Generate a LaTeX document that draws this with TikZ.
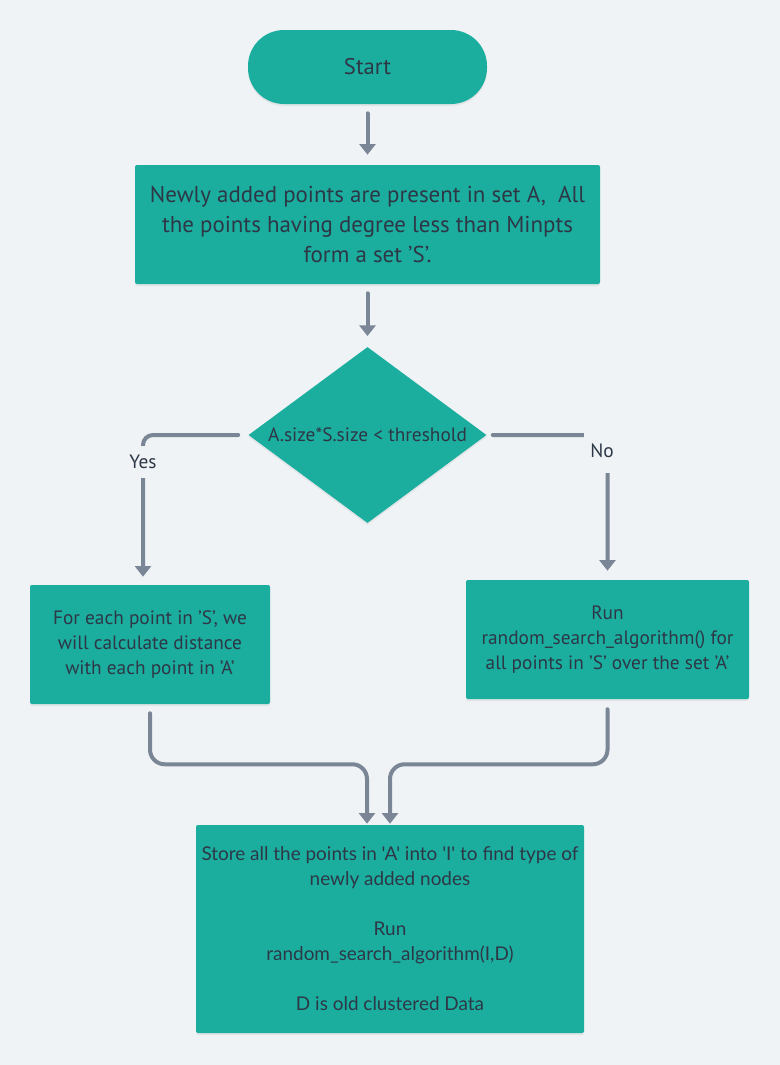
\documentclass[tikz,border=0pt]{standalone}
\usepackage{fontspec}
\setmainfont{PT Sans}
\newfontfamily\roundfont{Lato}
\usepackage{tikz}
\usetikzlibrary{arrows.meta,shapes.geometric,shadows,positioning}
\definecolor{bgcol}{RGB}{239,243,246}
\definecolor{tealfill}{RGB}{27,174,159}
\definecolor{inkcol}{RGB}{45,55,70}
\definecolor{linecol}{RGB}{122,134,150}

\begin{document}
\begin{tikzpicture}[x=0.75pt, y=-0.75pt,
font=\fontsize{14.5}{18.75}\selectfont, text=inkcol,
box/.style={
    draw=none, fill=tealfill, align=center, inner sep=0pt, rounded corners=1.5pt,
    drop shadow={shadow xshift=0pt, shadow yshift=-1.5pt, opacity=0.12},
},
flow/.style={draw=linecol, line width=3pt, line cap=round, -{Triangle[length=8pt,width=12pt]}},
tag/.style={fill=bgcol, inner sep=0pt},
]

\fill[bgcol] (0,0) rectangle (780,1065);

\node[box, rounded corners=27pt, minimum width=179.25pt, minimum height=55.5pt, font=\fontsize{17}{22}\selectfont] (start) at (367.5,67) {Start};
\node[box, minimum width=348.75pt, minimum height=89.25pt, font=\fontsize{17.2}{22.5}\selectfont] (points) at (367.5,224.5) {Newly added points are present in set A,~~All\\ the points having degree less than Minpts\\ form a set 'S'.};
\node[box, diamond, aspect=1.35, rounded corners=0pt, minimum width=178.5pt, minimum height=132pt] (check) at (367.5,435) {A.size*S.size < threshold};
\node[box, minimum width=180pt, minimum height=89.25pt] (brute) at (150,644.5) {For each point in 'S', we\\ will calculate distance\\ with each point in 'A'};
\node[box, minimum width=212.25pt, minimum height=89.25pt] (random) at (607.5,639.5) {Run\\ random\_search\_algorithm() for\\ all points in 'S' over the set 'A'};
\node[box, minimum width=291pt, minimum height=156pt, font=\roundfont\fontsize{14.2}{18.75}\selectfont] (store) at (390,929) {Store all the points in 'A' into 'I' to find type of\\ newly added nodes\\[18.75pt] Run\\ random\_search\_algorithm(I,D)\\[18.75pt] D is old clustered Data};

\draw[flow, shorten <=6.75pt, shorten >=7.5pt] (start) -- (points);
\draw[flow, shorten <=6.75pt, shorten >=8pt] (points) -- (check);
\draw[flow, rounded corners=7.5pt, shorten <=7.5pt, shorten >=6pt] (check.west) -| ([xshift=-5.25pt]brute.north);
\draw[flow, rounded corners=7.5pt, shorten <=4.5pt, shorten >=6.75pt] (check.east) -| (random.north);
\draw[flow, rounded corners=11pt, shorten <=6.75pt, shorten >=0.75pt] (brute.south) -- ++(0,60) -| ([xshift=-17.25pt]store.north);
\draw[flow, rounded corners=11pt, shorten <=7.5pt, shorten >=0.75pt] (random.south) -- ++(0,65) -| (store.north);

\node[tag, minimum width=30pt, minimum height=24pt] (yes) at (143,462) {Yes};
\node[tag, minimum width=27pt, minimum height=33pt] (no) at (602,451) {No};
%\node[tag] at (602,453) {No};

\end{tikzpicture}
\end{document}
